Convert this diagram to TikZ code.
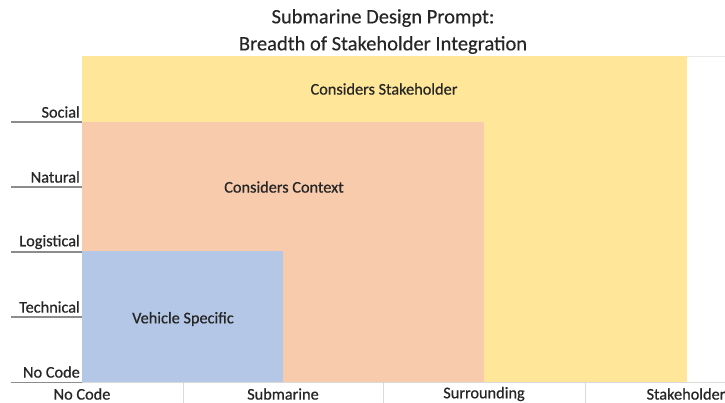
\documentclass[tikz,border=0pt]{standalone}
\usepackage{fontspec}
\setmainfont{Carlito}
\newfontfamily\lblfont{Carlito}[FakeBold=0.6]
\newfontfamily\ttlfont{Carlito}[FakeBold=0.3]
\begin{document}
\begin{tikzpicture}[x=1pt,y=-1pt,
  lbl/.style={inner sep=0pt,text=txt,font=\lblfont\fontsize{16.3}{18}\selectfont},
  ylbl/.style={lbl,anchor=east},
  ttl/.style={inner sep=0pt,text=txt,font=\ttlfont\fontsize{20.5}{24}\selectfont},
  tick/.style={draw=tickgray,line width=1.4pt},
  grid/.style={draw=gridgray,line width=1pt}]
\definecolor{txt}{HTML}{262626}
\definecolor{tickgray}{HTML}{8C8C8C}
\definecolor{gridgray}{HTML}{D9D9D9}
\definecolor{stakefill}{HTML}{FFE699}
\definecolor{contextfill}{HTML}{F8CBAD}
\definecolor{vehiclefill}{HTML}{B4C7E7}
\useasboundingbox (0,0) rectangle (725,403);
\fill[white] (0,0) rectangle (725,403);

% faint plot-area top gridline
\draw[draw=gridgray!60,line width=0.8pt] (82,56.5) -- (725,56.5);

% nested regions
\fill[stakefill] (82,56) rectangle (687,382);
\fill[contextfill] (82,122) rectangle (484,382);
\fill[vehiclefill] (82,251.5) rectangle (283,382);

% category axis
\draw[grid] (82,382.5) -- (725,382.5);
\foreach \x in {183,383.5,585} \draw[grid] (\x,382.5) -- (\x,403);

% value-axis ticks
\foreach \y in {122,187,252,317,382.5} \draw[tick] (11,\y) -- (82,\y);

% title
\node[ttl] (t1) at (383,18) {Submarine Design Prompt:};
\node[ttl] (t2) at (383,45) {Breadth of Stakeholder Integration};

% region labels
\node[lbl] (stake) at (384,89) {Considers Stakeholder};
\node[lbl] (context) at (284,187) {Considers Context};
\node[lbl] (vehicle) at (183,319) {Vehicle Specific};

% y labels
\node[ylbl] (ysoc) at (80,112) {Social};
\node[ylbl] (ynat) at (80,177) {Natural};
\node[ylbl] (ylog) at (80,242) {Logistical};
\node[ylbl] (ytec) at (80,307) {Technical};
\node[ylbl] (ynoc) at (80,372) {No Code};

% x labels
\node[lbl] (xnoc) at (82,394) {No Code};
\node[lbl] (xsub) at (283,394) {Submarine};
\node[lbl] (xsur) at (484,394) {Surrounding};
\node[lbl] (xsta) at (686,394) {Stakeholder};
\end{tikzpicture}
\end{document}
